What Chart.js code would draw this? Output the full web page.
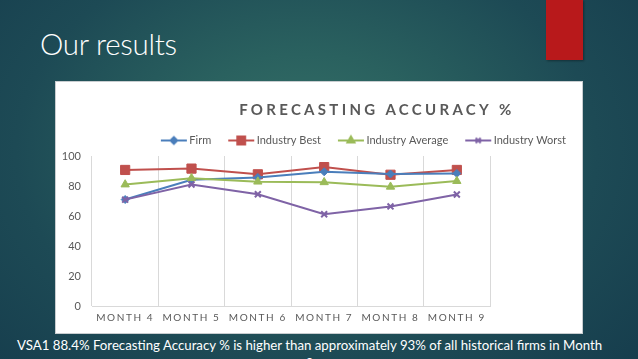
<!DOCTYPE html>
<html>
<head>
<meta charset="utf-8">
<script src="https://cdn.jsdelivr.net/npm/chart.js@4.4.1/dist/chart.umd.min.js"></script>
<style>
  html, body { margin: 0; padding: 0; }
  body {
    width: 638px; height: 359px; overflow: hidden; position: relative;
    background: radial-gradient(ellipse 70% 90% at 48% 42%, #367168 0%, #2a615f 30%, #1d4a55 65%, #163d4d 100%);
    font-family: Lato, "Open Sans", sans-serif;
  }
  #heading {
    position: absolute; left: 40px; top: 26px; color: #ffffff;
    font-family: Lato, sans-serif; font-weight: 300; font-size: 29.5px; letter-spacing: -0.3px;
  }
  #redbar {
    position: absolute; left: 546px; top: 0; width: 37px; height: 60px; background: #b8191b;
    box-shadow: 1px 1px 2px rgba(0,0,0,0.35);
  }
  #box {
    position: absolute; left: 55px; top: 81px; width: 526px; height: 251px;
    background: #ffffff; border: 1px solid #c8cdd0;
  }
  #box canvas { position: absolute; left: 0; top: 0; }
  #caption {
    position: absolute; left: 0; top: 336px; width: 619px; text-align: center;
    color: #ffffff; font-family: Lato, sans-serif; font-size: 13.25px; line-height: 18px;
  }
</style>
</head>
<body>
<div id="heading">Our results</div>
<div id="redbar"></div>
<div id="box"><canvas id="c" width="526" height="251"></canvas></div>
<div id="caption">VSA1 88.4% Forecasting Accuracy % is higher than approximately 93% of all historical firms in Month<br>9</div>
<script>
const chartTitle = "FORECASTING ACCURACY %";
const categories = ["MONTH 4", "MONTH 5", "MONTH 6", "MONTH 7", "MONTH 8", "MONTH 9"];
const seriesNames = ["Firm", "Industry Best", "Industry Average", "Industry Worst"];
const firm = [71, 84.2, 85.7, 89.5, 88, 88.4];
const industryBest = [90.7, 91.6, 87.8, 92.6, 87.5, 90.7];
const industryAverage = [81, 85.2, 82.9, 82.5, 79.5, 83.3];
const industryWorst = [70.9, 81, 74.5, 61.2, 66.4, 74.3];
const yTicks = [0, 20, 40, 60, 80, 100];

const colors = ["#4a7ebb", "#c0504d", "#9bbb59", "#7f63a6"];
const styles = ["rectRot", "rect", "triangle", "crossRot"];
const radii = [4, 6.5, 4.8, 4.2];

// Category scale with letter-spaced labels
class SpacedCategory extends Chart.CategoryScale {
  drawLabels(area) {
    const ctx = this.ctx;
    ctx.save();
    ctx.letterSpacing = "1.6px";
    super.drawLabels(area);
    ctx.restore();
  }
}
SpacedCategory.id = "spacedCategory";
SpacedCategory.defaults = Chart.CategoryScale.defaults;
Chart.register(SpacedCategory);

function legendIcon(i) {
  const cv = document.createElement("canvas");
  cv.width = 40; cv.height = 14;
  const ctx = cv.getContext("2d");
  ctx.strokeStyle = colors[i];
  ctx.fillStyle = colors[i];
  ctx.lineWidth = 2;
  ctx.beginPath(); ctx.moveTo(12, 7); ctx.lineTo(38, 7); ctx.stroke();
  Chart.helpers.drawPoint(ctx, { pointStyle: styles[i], radius: radii[i] * 0.85, rotation: 0, borderWidth: 2 }, 25, 7);
  if (styles[i] !== "crossRot") ctx.fill();
  return cv;
}

const titlePlugin = {
  id: "spacedTitle",
  afterDraw(chart) {
    const ctx = chart.ctx;
    ctx.save();
    ctx.letterSpacing = "3.3px";
    ctx.font = "bold 15px Lato, sans-serif";
    ctx.fillStyle = "#595959";
    ctx.textAlign = "center";
    ctx.textBaseline = "middle";
    ctx.fillText(chartTitle, chart.width * 0.61, 28);
    ctx.restore();
  }
};

const allSeries = [firm, industryBest, industryAverage, industryWorst];
const datasets = allSeries.map((d, i) => ({
  label: seriesNames[i],
  data: d,
  borderColor: colors[i],
  backgroundColor: colors[i],
  borderWidth: 2,
  pointStyle: styles[i],
  pointRadius: radii[i],
  pointBorderWidth: styles[i] === "crossRot" ? 2 : 1,
  pointBackgroundColor: colors[i],
  pointBorderColor: colors[i],
  tension: 0,
  order: i === 0 ? 2 : (i === 1 ? 3 : (i === 2 ? 1 : 0))
}));

new Chart(document.getElementById("c"), {
  type: "line",
  data: { labels: categories, datasets },
  plugins: [titlePlugin],
  options: {
    responsive: false,
    animation: false,
    devicePixelRatio: 1,
    layout: { padding: { top: 43, left: 0, right: 6, bottom: 3 } },
    plugins: {
      title: { display: false },
      tooltip: { enabled: false },
      legend: {
        display: true,
        position: "top",
        align: "end",
        labels: {
          usePointStyle: true,
          pointStyleWidth: 30,
          padding: 10,
          color: "#595959",
          font: { family: "Lato, sans-serif", size: 11 },
          generateLabels: (chart) => seriesNames.map((n, i) => ({
            text: n, pointStyle: legendIcon(i), fillStyle: colors[i], strokeStyle: colors[i],
            lineWidth: 0, hidden: false, datasetIndex: i, fontColor: "#595959"
          }))
        }
      }
    },
    scales: {
      x: {
        type: "spacedCategory",
        offset: true,
        grid: { display: true, offset: true, color: "#d9d9d9", lineWidth: 1, drawTicks: false },
        border: { display: true, color: "#d9d9d9" },
        ticks: { color: "#595959", font: { family: "Lato, sans-serif", size: 10 }, padding: 6, maxRotation: 0, autoSkip: false }
      },
      y: {
        min: 0, max: 100,
        afterBuildTicks: (s) => { s.ticks = yTicks.map(v => ({ value: v })); },
        afterFit: (s) => { s.width = 36; },
        grid: { display: false, drawTicks: false },
        border: { display: false },
        ticks: { color: "#595959", font: { family: "Lato, sans-serif", size: 11 }, padding: 11 }
      },
      pad: {
        type: "linear", position: "right", display: true,
        afterFit: (s) => { s.width = 86; },
        grid: { display: false, drawTicks: false },
        border: { display: false },
        ticks: { display: false }
      }
    }
  }
});
</script>
</body>
</html>
